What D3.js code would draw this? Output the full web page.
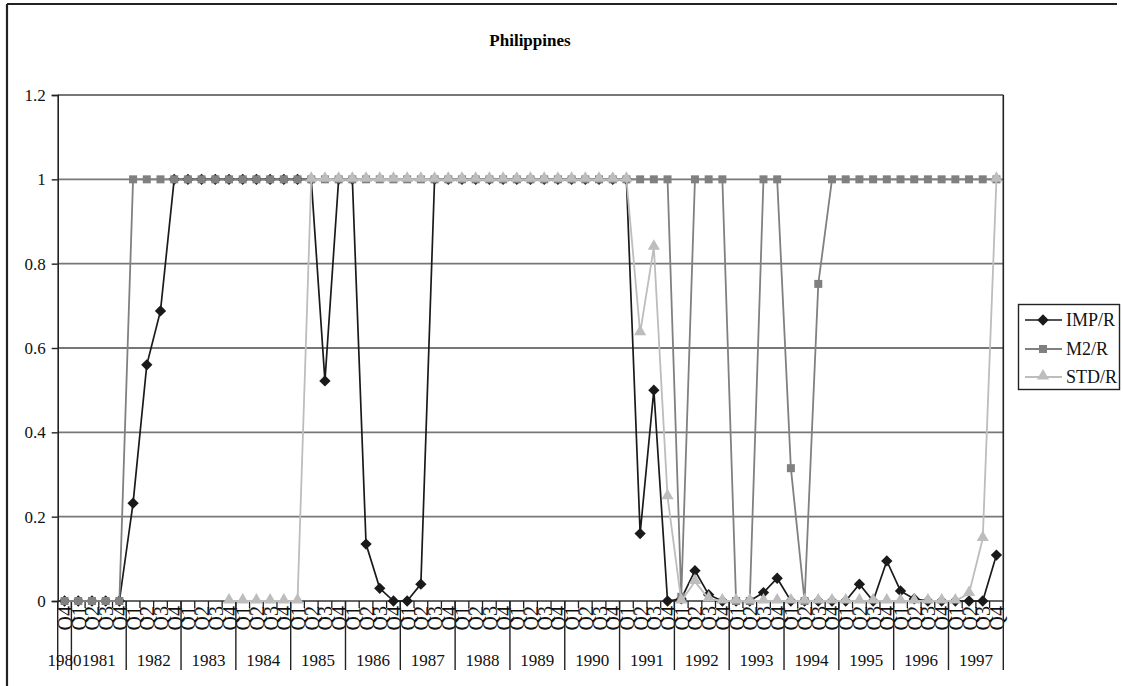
<!DOCTYPE html>
<html>
<head>
<meta charset="utf-8">
<script src="https://cdn.jsdelivr.net/npm/d3@7"></script>
<style>
  body { margin: 0; background: #fff; }
  svg { display: block; }
  svg text { font-family: "Liberation Serif", "Times New Roman", serif; }
</style>
</head>
<body>
<svg id="chart" width="1123" height="686"></svg>
<script>
// Year groups on the category axis (1980 only has Q4)
const years = ["1980", "1981", "1982", "1983", "1984", "1985", "1986", "1987", "1988",
  "1989", "1990", "1991", "1992", "1993", "1994", "1995", "1996", "1997"];
const firstYearQuarters = ["Q4"];
const fullYearQuarters = ["Q1", "Q2", "Q3", "Q4"];

const seriesNames = ["IMP/R", "M2/R", "STD/R"];

const impR = [
  0, 0, 0, 0, 0,
  0.232, 0.56, 0.688, 1,
  1, 1, 1, 1,
  1, 1, 1, 1,
  1, 1, 0.522, 1,
  1, 0.135, 0.03, 0,
  0, 0.04, 1, 1,
  1, 1, 1, 1,
  1, 1, 1, 1,
  1, 1, 1, 1,
  1, 0.16, 0.5, 0,
  0.005, 0.072, 0.015, 0,
  0, 0, 0.02, 0.054,
  0, 0, 0, 0,
  0, 0.04, 0, 0.095,
  0.024, 0.005, 0, 0,
  0, 0, 0, 0.109
];

const m2R = [
  0, 0, 0, 0, 0,
  1, 1, 1, 1,
  1, 1, 1, 1,
  1, 1, 1, 1,
  1, 1, 1, 1,
  1, 1, 1, 1,
  1, 1, 1, 1,
  1, 1, 1, 1,
  1, 1, 1, 1,
  1, 1, 1, 1,
  1, 1, 1, 1,
  0.01, 1, 1, 1,
  0, 0, 1, 1,
  0.315, 0, 0.752, 1,
  1, 1, 1, 1,
  1, 1, 1, 1,
  1, 1, 1, 1
];

const stdR = [
  null, null, null, null, null,
  null, null, null, null,
  null, null, null, 0,
  0, 0, 0, 0,
  0, 1, 1, 1,
  1, 1, 1, 1,
  1, 1, 1, 1,
  1, 1, 1, 1,
  1, 1, 1, 1,
  1, 1, 1, 1,
  1, 0.636, 0.839, 0.247,
  0, 0.046, 0.005, 0,
  0, 0, 0, 0,
  0, 0, 0, 0,
  0, 0, 0, 0,
  0, 0, 0, 0,
  0, 0.018, 0.148, 1
];

const yTicks = [0, 0.2, 0.4, 0.6, 0.8, 1, 1.2];

const FONT = "Liberation Serif, Times New Roman, serif";

// build category list
const categories = [];
years.forEach((yr, k) => {
  const qs = k === 0 ? firstYearQuarters : fullYearQuarters;
  qs.forEach(q => categories.push({ year: yr, q: q }));
});

const svg = d3.select("#chart");
const plot = { left: 57.7, right: 1003.3, top: 95, bottom: 601 };

// outer frame (top and left edges visible)
svg.append("line").attr("x1", 7).attr("x2", 1117).attr("y1", 4).attr("y2", 4)
  .attr("stroke", "#222").attr("stroke-width", 2.2);
svg.append("line").attr("x1", 7).attr("x2", 7).attr("y1", 4).attr("y2", 686)
  .attr("stroke", "#222").attr("stroke-width", 2.2);

// Title
svg.append("text")
  .attr("x", 530).attr("y", 46)
  .attr("text-anchor", "middle")
  .attr("font-family", FONT)
  .style("font-size", "17px")
  .style("font-weight", "bold")
  .attr("fill", "#000")
  .text("Philippines");

const x = d3.scaleBand()
  .domain(d3.range(categories.length))
  .range([plot.left, plot.right])
  .padding(0);
const bw = x.bandwidth();
const cx = i => x(i) + bw / 2;

const y = d3.scaleLinear().domain([0, 1.2]).range([plot.bottom, plot.top]);

// gridlines
svg.append("g")
  .selectAll("line")
  .data(yTicks.filter(d => d > 0))
  .join("line")
  .attr("x1", plot.left).attr("x2", plot.right)
  .attr("y1", d => y(d)).attr("y2", d => y(d))
  .attr("stroke", "#777").attr("stroke-width", 1.8);

// y axis
const yAxis = svg.append("g")
  .attr("transform", `translate(${plot.left},0)`)
  .call(d3.axisLeft(y).tickValues(yTicks).tickFormat(d => String(d)).tickSize(6).tickPadding(6));
yAxis.select(".domain").attr("stroke", "#222").attr("stroke-width", 1.6);
yAxis.selectAll(".tick line").attr("stroke", "#222").attr("stroke-width", 1.4);
yAxis.selectAll("text")
  .attr("font-family", FONT)
  .style("font-size", "17px")
  .attr("fill", "#111");

// right plot border
svg.append("line")
  .attr("x1", plot.right).attr("x2", plot.right)
  .attr("y1", plot.top).attr("y2", plot.bottom)
  .attr("stroke", "#222").attr("stroke-width", 1.6);

// x axis: baseline + quarter ticks
svg.append("line")
  .attr("x1", plot.left).attr("x2", plot.right)
  .attr("y1", plot.bottom).attr("y2", plot.bottom)
  .attr("stroke", "#333").attr("stroke-width", 1.6);

svg.append("g")
  .selectAll("line")
  .data(d3.range(categories.length + 1))
  .join("line")
  .attr("x1", i => plot.left + i * bw).attr("x2", i => plot.left + i * bw)
  .attr("y1", plot.bottom).attr("y2", plot.bottom + 7)
  .attr("stroke", "#222").attr("stroke-width", 1.3);

// quarter labels, rotated
svg.append("g")
  .selectAll("text")
  .data(categories)
  .join("text")
  .attr("transform", (d, i) => `translate(${cx(i) + 0.5},${plot.bottom + 5}) rotate(-90)`)
  .attr("text-anchor", "end")
  .attr("dominant-baseline", "central")
  .attr("font-family", FONT)
  .style("font-size", "20px")
  .attr("fill", "#111")
  .text(d => d.q);

// year groups
const groups = [];
let start = 0;
years.forEach((yr) => {
  const n = categories.filter(c => c.year === yr).length;
  groups.push({ year: yr, start: start, n: n });
  start += n;
});

svg.append("g")
  .selectAll("line")
  .data(groups.map(g => g.start).concat([categories.length]))
  .join("line")
  .attr("x1", s => plot.left + s * bw).attr("x2", s => plot.left + s * bw)
  .attr("y1", plot.bottom).attr("y2", 670)
  .attr("stroke", "#222").attr("stroke-width", 1.4);

svg.append("g")
  .selectAll("text")
  .data(groups)
  .join("text")
  .attr("x", g => plot.left + (g.start + g.n / 2) * bw)
  .attr("y", 666)
  .attr("text-anchor", "middle")
  .attr("font-family", FONT)
  .style("font-size", "17px")
  .attr("fill", "#111")
  .text(g => g.year);

// series
const series = [
  { name: seriesNames[0], values: impR, color: "#1a1a1a", symbol: d3.symbolDiamond, size: 64, width: 1.7 },
  { name: seriesNames[1], values: m2R, color: "#808080", symbol: d3.symbolSquare, size: 64, width: 1.8 },
  { name: seriesNames[2], values: stdR, color: "#bdbdbd", symbol: d3.symbolTriangle, size: 64, width: 1.8 }
];

const line = d3.line()
  .defined(d => d != null)
  .x((d, i) => cx(i))
  .y(d => y(d));

// Excel-like diamond: a rotated square
const markerPath = s => s.symbol === d3.symbolDiamond
  ? d3.symbol().type(d3.symbolSquare).size(s.size)()
  : d3.symbol().type(s.symbol).size(s.size)();
const markerAt = (s, px, py) => s.symbol === d3.symbolDiamond
  ? `translate(${px},${py}) rotate(45)`
  : s.symbol === d3.symbolTriangle ? `translate(${px},${py - 1})` : `translate(${px},${py})`;

series.forEach(s => {
  const g = svg.append("g");
  g.append("path")
    .datum(s.values)
    .attr("d", line)
    .attr("fill", "none")
    .attr("stroke", s.color)
    .attr("stroke-width", s.width);

  const pts = s.values.map((v, i) => ({ v, i })).filter(d => d.v != null);
  g.selectAll("path.mark")
    .data(pts)
    .join("path")
    .attr("class", "mark")
    .attr("transform", d => markerAt(s, cx(d.i), y(d.v)))
    .attr("d", markerPath(s))
    .attr("fill", s.color);
});

// legend
const legend = svg.append("g");
legend.append("rect")
  .attr("x", 1018.5).attr("y", 304.5).attr("width", 101).attr("height", 85)
  .attr("fill", "#fff").attr("stroke", "#222").attr("stroke-width", 1.4);

const legendY = [320, 349, 377];
series.forEach((s, k) => {
  const ly = legendY[k];
  legend.append("line")
    .attr("x1", 1025).attr("x2", 1062).attr("y1", ly).attr("y2", ly)
    .attr("stroke", s.color).attr("stroke-width", s.width);
  legend.append("path")
    .attr("transform", markerAt(s, 1043, ly))
    .attr("d", markerPath(s))
    .attr("fill", s.color);
  legend.append("text")
    .attr("x", 1066).attr("y", ly)
    .attr("dominant-baseline", "central")
    .attr("font-family", FONT)
    .style("font-size", "18px")
    .attr("fill", "#111")
    .text(s.name);
});
</script>
</body>
</html>
